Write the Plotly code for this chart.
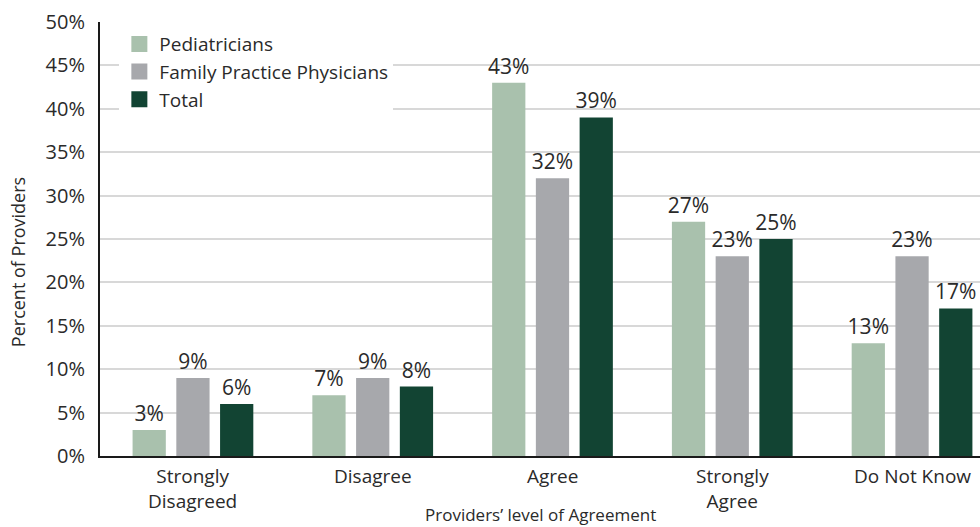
import plotly.graph_objects as go

categories = ["Strongly Disagreed", "Disagree", "Agree", "Strongly Agree", "Do Not Know"]
category_labels = ["Strongly<br>Disagreed", "Disagree", "Agree", "Strongly<br>Agree", "Do Not Know"]
pediatricians = [3, 7, 43, 27, 13]
family_practice = [9, 9, 32, 23, 23]
total = [6, 8, 39, 25, 17]

series = [
    ("Pediatricians", pediatricians, "#A9C1AD"),
    ("Family Practice Physicians", family_practice, "#A7A8AC"),
    ("Total", total, "#124433"),
]

FONT = "Open Sans"
TEXT_COLOR = "#2a2a2a"

fig = go.Figure()
for name, values, color in series:
    fig.add_trace(go.Bar(
        name=name,
        x=categories,
        y=values,
        marker=dict(color=color, line=dict(width=0)),
        text=[f"{v}%" for v in values],
        textposition="outside",
        constraintext="none",
        textfont=dict(family=FONT, size=21, color=TEXT_COLOR),
        cliponaxis=False,
        showlegend=False,
    ))
    # legend entry with a larger square swatch
    fig.add_trace(go.Scatter(
        name=name,
        x=[None], y=[None],
        mode="markers",
        marker=dict(symbol="square", size=16, color=color),
        showlegend=True,
    ))

# category labels below the axis
annotations = []
for cat, label in zip(categories, category_labels):
    annotations.append(dict(
        x=cat, xref="x", y=0, yref="paper",
        yanchor="top", yshift=-5,
        text=label, showarrow=False,
        font=dict(family=FONT, size=19, color=TEXT_COLOR),
    ))

annotations.append(dict(
    x=0.5, xref="paper", y=0, yref="paper",
    yanchor="middle", yshift=-58,
    text="Providers’ level of Agreement", showarrow=False,
    font=dict(family=FONT, size=17, color=TEXT_COLOR),
))
annotations.append(dict(
    x=-0.093, xref="paper", y=0.447, yref="paper",
    xanchor="center", yanchor="middle", textangle=-90,
    text="Percent of Providers", showarrow=False,
    font=dict(family=FONT, size=18, color=TEXT_COLOR),
))

fig.update_layout(
    width=980,
    height=527,
    margin=dict(l=100, r=0, t=22, b=71),
    paper_bgcolor="white",
    plot_bgcolor="white",
    barmode="group",
    bargap=0.27,
    bargroupgap=0.24,
    font=dict(family=FONT, color=TEXT_COLOR),
    annotations=annotations,
    legend=dict(
        x=0.022, y=0.993, xanchor="left", yanchor="top",
        bgcolor="white",
        font=dict(family=FONT, size=19, color=TEXT_COLOR),
        itemwidth=30,
        tracegroupgap=0,
    ),
    xaxis=dict(
        range=[-0.517, 4.378],
        showline=True, linecolor="#1a1a1a", linewidth=2,
        ticks="", showgrid=False, showticklabels=False,
    ),
    yaxis=dict(
        range=[0, 50],
        dtick=5,
        ticksuffix="%",
        showline=True, linecolor="#1a1a1a", linewidth=2,
        showgrid=True, gridcolor="#D8D8D8", gridwidth=2,
        zeroline=False,
        ticks="", ticklabelstandoff=9,
        tickfont=dict(family=FONT, size=20, color=TEXT_COLOR),
    ),
)

fig.write_html("out.html")
